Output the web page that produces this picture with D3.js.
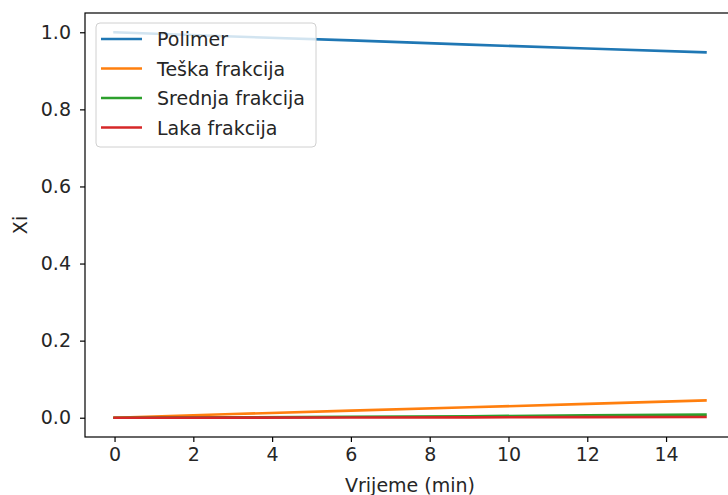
<!DOCTYPE html>
<html>
<head>
<meta charset="utf-8">
<script src="https://cdn.jsdelivr.net/npm/d3@7"></script>
<style>
  body { margin: 0; background: #fff; }
  svg text { font-family: "DejaVu Sans", sans-serif; fill: #262626; }
</style>
</head>
<body>
<svg id="chart" width="728" height="495"></svg>
<script>
// Podaci (očitano sa slike)
const vrijeme = [0, 3, 6, 9, 12, 15];
const polimer = [1.0, 0.989, 0.979, 0.968, 0.958, 0.948];
const teska = [0, 0.0095, 0.0185, 0.027, 0.036, 0.045];
const srednja = [0, 0.001, 0.0025, 0.004, 0.006, 0.008];
const laka = [0, 0.0002, 0.0006, 0.001, 0.0015, 0.002];
const seriesNames = ["Polimer", "Teška frakcija", "Srednja frakcija", "Laka frakcija"];
const seriesColors = ["#1f77b4", "#ff7f0e", "#2ca02c", "#d62728"];
const xTicks = [0, 2, 4, 6, 8, 10, 12, 14];
const yTicks = [0.0, 0.2, 0.4, 0.6, 0.8, 1.0];

const series = [polimer, teska, srednja, laka];
const fontSize = 19;

const svg = d3.select("#chart");
const plot = { left: 85, right: 735, top: 13, bottom: 437 };

const x = d3.scaleLinear().domain([-0.75, 15.75]).range([plot.left, plot.right]);
const y = d3.scaleLinear().domain([-0.05, 1.05]).range([plot.bottom, plot.top]);

// Linije
const line = d3.line()
    .x((d, i) => x(vrijeme[i]))
    .y(d => y(d));

series.forEach((s, i) => {
    svg.append("path")
        .datum(s)
        .attr("d", line)
        .attr("fill", "none")
        .attr("stroke", seriesColors[i])
        .attr("stroke-width", 2.6)
        .attr("stroke-linecap", "square");
});

// Osi
const xAxis = d3.axisBottom(x).tickValues(xTicks).tickFormat(d3.format("d"))
    .tickSize(5).tickPadding(6);
const gx = svg.append("g").attr("transform", `translate(0,${plot.bottom})`).call(xAxis);

const yAxis = d3.axisLeft(y).tickValues(yTicks).tickFormat(d3.format(".1f"))
    .tickSize(5).tickPadding(9);
const gy = svg.append("g").attr("transform", `translate(${plot.left},0)`).call(yAxis);

[gx, gy].forEach(g => {
    g.select(".domain").remove();
    g.selectAll(".tick line").attr("stroke", "#000").attr("stroke-width", 1.2);
    g.selectAll(".tick text").attr("font-size", fontSize).attr("fill", "#262626");
});

// Okvir (spines)
svg.append("rect")
    .attr("x", plot.left).attr("y", plot.top)
    .attr("width", plot.right - plot.left).attr("height", plot.bottom - plot.top)
    .attr("fill", "none").attr("stroke", "#000").attr("stroke-width", 1.2);

// Naslovi osi
svg.append("text")
    .attr("x", (plot.left + plot.right) / 2)
    .attr("y", 492)
    .attr("text-anchor", "middle")
    .attr("font-size", fontSize)
    .text("Vrijeme (min)");

svg.append("text")
    .attr("transform", `translate(27,${(plot.top + plot.bottom) / 2}) rotate(-90)`)
    .attr("text-anchor", "middle")
    .attr("font-size", fontSize)
    .text("Xi");

// Legenda
const legend = svg.append("g").attr("transform", "translate(96,23)");
legend.append("rect")
    .attr("x", 0).attr("y", 0)
    .attr("width", 220).attr("height", 124)
    .attr("rx", 4)
    .attr("fill", "#fff").attr("fill-opacity", 0.8)
    .attr("stroke", "#d0d0d0").attr("stroke-width", 1);

seriesNames.forEach((name, i) => {
    const cy = 16 + i * 29.5;
    legend.append("line")
        .attr("x1", 5).attr("x2", 46)
        .attr("y1", cy).attr("y2", cy)
        .attr("stroke", seriesColors[i]).attr("stroke-width", 2.6);
    legend.append("text")
        .attr("x", 61).attr("y", cy + 7)
        .attr("font-size", fontSize)
        .text(name);
});
</script>
</body>
</html>
